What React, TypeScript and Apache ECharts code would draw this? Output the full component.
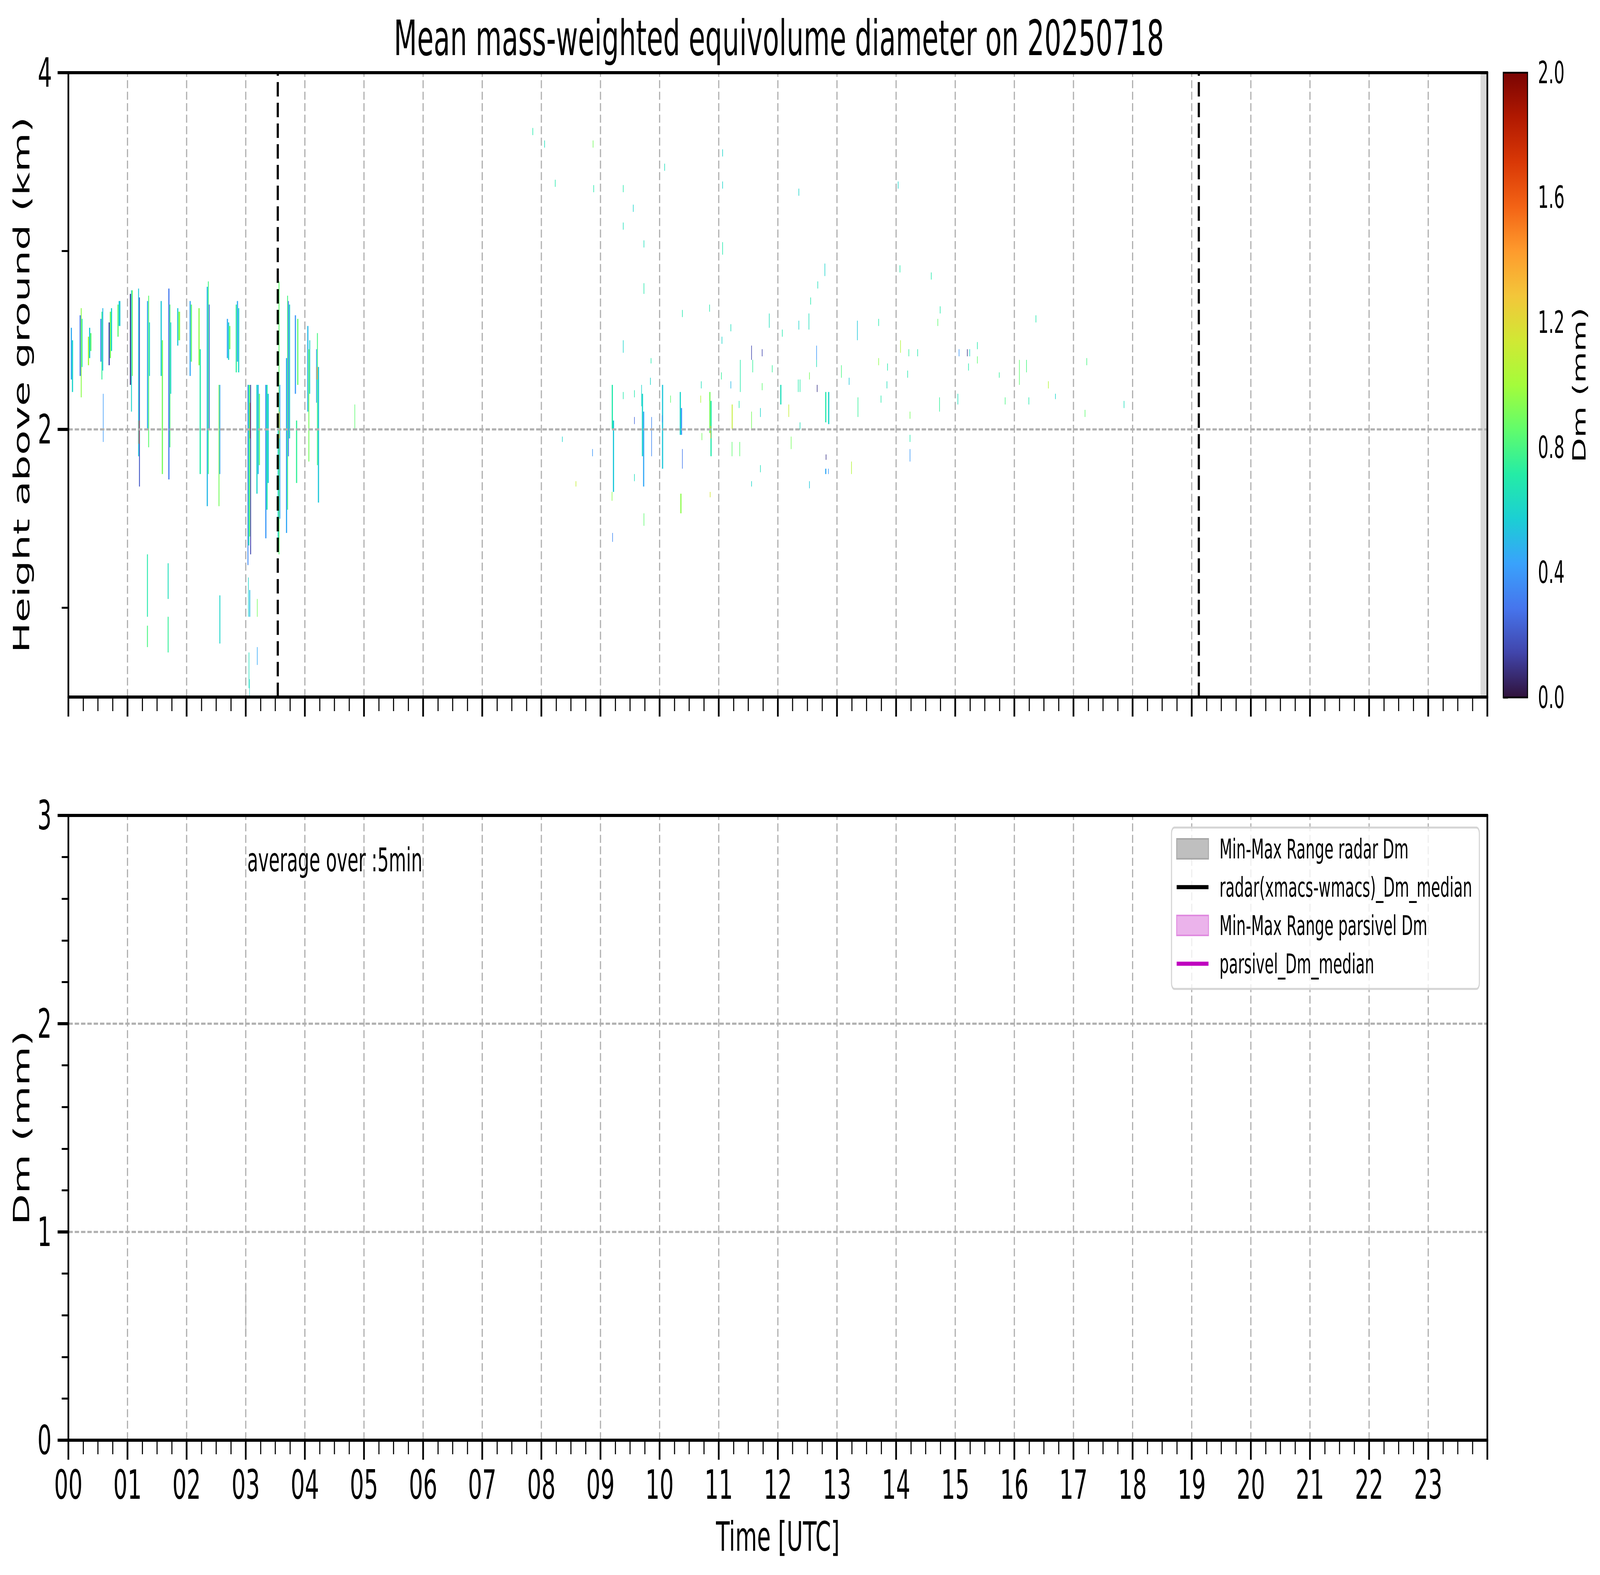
import React, { useEffect, useRef } from 'react';
import * as echarts from 'echarts';

// ---------------- data ----------------
const TITLE = 'Mean mass-weighted equivolume diameter on 20250718';
const HOUR_LABELS = ['00', '01', '02', '03', '04', '05', '06', '07', '08', '09', '10', '11',
  '12', '13', '14', '15', '16', '17', '18', '19', '20', '21', '22', '23'];
const HEIGHT_TICKS = [2, 4];
const HEIGHT_MINOR_TICKS = [1, 3];
const HEIGHT_GRID = [2];
const HEIGHT_MIN = 0.5;
const HEIGHT_MAX = 4;
const DM_MAX = 3;
const DM_GRID = [1, 2];
const CB_MIN = 0;
const CB_MAX = 2;
const EVENT_LINES = [3.535, 19.117];
const NO_DATA_START = 23.885;
const AVG_TEXT = 'average over :5min';

// matplotlib "turbo" colormap samples (0 -> 1)
const TURBO = ['#30123b', '#4145ab', '#4675ed', '#39a2fc', '#1bcfd4', '#24eca6', '#61fc6c', '#a4fc3b',
  '#d1e834', '#f3c63a', '#fe9b2d', '#f36315', '#d93806', '#b11901', '#7a0403'];

// radar Dm cells: [time start (h), time end (h), height bottom (km), height top (km), Dm (mm)]
const RADAR_EARLY = [
  [0.04, 0.06, 2.28, 2.57, 0.45], [0.06, 0.08, 2.21, 2.50, 0.6],
  [0.19, 0.21, 2.30, 2.64, 0.3], [0.21, 0.225, 2.18, 2.68, 0.95], [0.225, 0.24, 2.35, 2.62, 0.7],
  [0.33, 0.35, 2.36, 2.52, 1.0], [0.35, 0.37, 2.40, 2.57, 0.55], [0.37, 0.39, 2.44, 2.54, 0.85],
  [0.54, 0.56, 2.38, 2.62, 0.35], [0.56, 0.575, 2.28, 2.66, 0.75], [0.575, 0.59, 2.33, 2.68, 0.5], [0.585, 0.595, 1.93, 2.2, 0.4],
  [0.68, 0.70, 2.36, 2.60, 0.15], [0.70, 0.72, 2.40, 2.66, 0.9], [0.72, 0.74, 2.44, 2.68, 0.6],
  [0.83, 0.85, 2.52, 2.70, 0.85], [0.85, 0.88, 2.58, 2.72, 0.55],
  [1.04, 1.06, 2.25, 2.76, 0.1], [1.06, 1.075, 2.10, 2.78, 0.6], [1.075, 1.09, 2.30, 2.78, 0.9],
  [1.18, 1.195, 1.85, 2.79, 0.55], [1.195, 1.21, 1.68, 2.74, 0.2], [1.19, 1.2, 1.92, 2.05, 1.6],
  [1.33, 1.35, 2.0, 2.72, 0.45], [1.35, 1.365, 1.9, 2.75, 0.85], [1.365, 1.38, 2.3, 2.6, 0.6],
  [1.56, 1.58, 2.30, 2.72, 0.55], [1.58, 1.60, 1.75, 2.5, 0.9],
  [1.69, 1.71, 1.72, 2.79, 0.3], [1.71, 1.725, 1.9, 2.7, 0.8], [1.725, 1.74, 2.2, 2.6, 0.55],
  [1.84, 1.86, 2.47, 2.68, 0.55], [1.86, 1.89, 2.50, 2.66, 0.95],
  [2.05, 2.07, 2.30, 2.72, 0.45], [2.07, 2.09, 2.38, 2.70, 0.85],
  [2.20, 2.22, 2.36, 2.68, 0.95], [2.22, 2.24, 1.75, 2.45, 0.7],
  [2.34, 2.36, 1.57, 2.80, 0.5], [2.36, 2.375, 1.75, 2.83, 0.8], [2.375, 2.39, 2.0, 2.7, 0.25],
  [2.54, 2.555, 1.57, 2.25, 0.9], [2.555, 2.57, 1.75, 2.25, 0.45],
  [2.68, 2.70, 2.40, 2.62, 0.45], [2.70, 2.72, 2.39, 2.60, 0.6], [2.72, 2.74, 2.45, 2.58, 0.9],
  [2.83, 2.85, 2.32, 2.70, 0.75], [2.85, 2.87, 2.38, 2.72, 0.45], [2.87, 2.89, 2.32, 2.68, 0.6],
  [1.33, 1.345, 0.95, 1.30, 0.7], [1.33, 1.345, 0.78, 0.90, 0.8],
  [1.68, 1.695, 1.05, 1.25, 0.65], [1.68, 1.695, 0.75, 0.95, 0.75],
  [2.555, 2.57, 0.80, 1.07, 0.6],
];

const RADAR_MORNING = [
  [3.03, 3.045, 1.24, 2.25, 0.35], [3.045, 3.06, 1.35, 2.25, 0.7], [3.06, 3.075, 1.40, 2.25, 0.9],
  [3.075, 3.09, 1.30, 2.25, 0.15], [3.07, 3.075, 1.95, 2.15, 1.8],
  [3.04, 3.05, 0.95, 1.17, 0.6], [3.06, 3.075, 0.95, 1.1, 0.5], [3.05, 3.06, 0.55, 0.75, 0.65], [3.06, 3.065, 0.5, 0.6, 0.6],
  [3.18, 3.20, 1.64, 2.25, 0.6], [3.20, 3.22, 1.75, 2.25, 0.5], [3.22, 3.24, 1.80, 2.20, 0.85],
  [3.19, 3.20, 0.95, 1.05, 0.9], [3.19, 3.20, 0.68, 0.78, 0.45],
  [3.33, 3.35, 1.39, 2.25, 0.4], [3.35, 3.37, 1.55, 2.25, 0.7], [3.37, 3.39, 1.70, 2.2, 0.55],
  [3.54, 3.555, 1.35, 2.05, 0.55], [3.555, 3.57, 1.30, 2.83, 0.85], [3.57, 3.585, 1.50, 2.25, 0.45], [3.565, 3.575, 1.95, 2.1, 1.3],
  [3.68, 3.70, 1.42, 2.40, 0.45], [3.70, 3.715, 1.55, 2.75, 0.8], [3.715, 3.73, 1.85, 2.72, 0.3], [3.73, 3.75, 1.95, 2.70, 0.6],
  [3.83, 3.85, 2.20, 2.64, 0.4], [3.85, 3.87, 1.70, 2.05, 0.75], [3.87, 3.89, 2.25, 2.62, 0.85],
  [4.04, 4.06, 2.10, 2.58, 0.5], [4.06, 4.075, 1.82, 2.45, 0.9], [4.075, 4.09, 2.20, 2.50, 0.6],
  [4.19, 4.205, 2.15, 2.45, 0.45], [4.205, 4.22, 1.80, 2.54, 0.8], [4.22, 4.24, 1.59, 2.35, 0.55], [4.20, 4.215, 2.28, 2.35, 1.4],
  [4.84, 4.85, 2.0, 2.14, 0.85],
];

const RADAR_DAYTIME = [
  [7.85, 7.86, 3.65, 3.69, 0.7], [8.05, 8.06, 3.58, 3.62, 0.65], [8.23, 8.24, 3.36, 3.40, 0.7],
  [8.35, 8.36, 1.93, 1.96, 0.6], [8.58, 8.59, 1.68, 1.71, 1.1], [8.86, 8.87, 1.85, 1.89, 0.4],
  [8.87, 8.88, 3.58, 3.62, 0.9], [8.88, 8.89, 3.33, 3.37, 0.7],
  [9.19, 9.21, 2.0, 2.25, 0.7], [9.21, 9.23, 1.65, 2.05, 0.55], [9.20, 9.21, 1.37, 1.42, 0.35], [9.19, 9.20, 1.6, 1.65, 0.95],
  [9.38, 9.39, 3.33, 3.37, 0.7], [9.38, 9.39, 3.12, 3.16, 0.65], [9.38, 9.39, 2.43, 2.50, 0.6], [9.38, 9.39, 2.17, 2.21, 0.7],
  [9.55, 9.56, 3.22, 3.26, 0.6], [9.57, 9.58, 2.18, 2.22, 0.7], [9.57, 9.58, 2.03, 2.07, 0.25], [9.57, 9.58, 1.71, 1.75, 0.65],
  [9.69, 9.70, 2.13, 2.25, 0.6], [9.70, 9.72, 1.85, 2.2, 0.6], [9.72, 9.74, 1.68, 2.1, 0.45], [9.73, 9.74, 1.46, 1.53, 0.85],
  [9.73, 9.74, 3.02, 3.06, 0.65], [9.73, 9.74, 2.76, 2.82, 0.7],
  [9.85, 9.86, 2.37, 2.40, 0.7], [9.86, 9.87, 1.85, 2.07, 0.35], [9.84, 9.85, 2.25, 2.29, 0.6],
  [10.04, 10.06, 1.78, 2.25, 0.55], [10.04, 10.05, 2.04, 2.08, 0.4], [10.08, 10.09, 3.45, 3.49, 0.65], [10.18, 10.19, 2.15, 2.19, 0.85],
  [10.34, 10.36, 1.97, 2.21, 0.6], [10.36, 10.38, 1.97, 2.12, 0.4], [10.35, 10.37, 1.53, 1.64, 0.95],
  [10.38, 10.39, 1.78, 1.89, 0.3], [10.38, 10.39, 2.63, 2.67, 0.7],
  [10.70, 10.71, 2.23, 2.27, 0.65], [10.69, 10.70, 2.15, 2.19, 1.05], [10.71, 10.72, 1.94, 1.98, 0.9],
  [10.84, 10.86, 1.98, 2.21, 0.9], [10.86, 10.88, 1.85, 2.16, 0.7], [10.86, 10.87, 1.95, 2.02, 1.35],
  [10.85, 10.86, 1.62, 1.65, 1.15], [10.84, 10.85, 2.66, 2.70, 0.7],
  [11.06, 11.07, 3.53, 3.57, 0.6], [11.06, 11.07, 3.35, 3.39, 0.6], [11.06, 11.07, 2.98, 3.05, 0.7],
  [11.04, 11.05, 2.28, 2.32, 0.75], [11.05, 11.06, 2.48, 2.52, 0.6],
  [11.20, 11.21, 2.55, 2.59, 0.65], [11.20, 11.21, 2.23, 2.27, 0.5], [11.22, 11.235, 2.0, 2.14, 1.1], [11.22, 11.23, 1.85, 1.93, 0.85],
  [11.34, 11.35, 2.12, 2.16, 0.7], [11.35, 11.36, 1.85, 1.93, 0.85], [11.36, 11.37, 2.21, 2.39, 0.7],
  [11.55, 11.56, 2.39, 2.47, 0.15], [11.55, 11.56, 2.0, 2.1, 0.9], [11.55, 11.56, 1.68, 1.71, 0.6], [11.57, 11.58, 2.32, 2.39, 0.75],
  [11.70, 11.71, 2.07, 2.12, 0.6], [11.70, 11.71, 1.76, 1.80, 0.65], [11.73, 11.74, 2.41, 2.45, 0.15], [11.73, 11.74, 2.22, 2.26, 0.85],
  [11.85, 11.86, 2.57, 2.65, 0.65], [11.90, 11.91, 2.32, 2.36, 0.75],
  [12.04, 12.06, 2.14, 2.25, 0.65], [12.07, 12.08, 2.52, 2.56, 0.7], [12.18, 12.19, 2.07, 2.14, 1.1], [12.22, 12.23, 1.89, 1.96, 0.9],
  [12.34, 12.35, 2.21, 2.28, 0.7], [12.35, 12.36, 2.56, 2.61, 0.6], [12.35, 12.36, 3.31, 3.35, 0.6],
  [12.37, 12.38, 2.21, 2.28, 0.7], [12.37, 12.38, 2.0, 2.04, 0.65],
  [12.52, 12.53, 2.56, 2.65, 0.65], [12.53, 12.54, 2.28, 2.32, 0.9], [12.53, 12.54, 1.67, 1.71, 0.55], [12.55, 12.56, 2.70, 2.74, 0.7],
  [12.65, 12.66, 2.39, 2.47, 0.4], [12.65, 12.66, 2.35, 2.39, 0.65], [12.66, 12.67, 2.21, 2.25, 0.1], [12.67, 12.68, 2.79, 2.83, 0.65],
  [12.79, 12.80, 2.86, 2.93, 0.6], [12.80, 12.82, 2.04, 2.21, 0.7], [12.81, 12.82, 1.83, 1.86, 0.1], [12.80, 12.82, 1.75, 1.78, 0.45],
  [12.85, 12.87, 2.03, 2.21, 0.6], [12.85, 12.86, 1.75, 1.78, 0.4],
  [13.07, 13.08, 2.29, 2.36, 0.8], [13.20, 13.21, 2.25, 2.29, 0.55], [13.24, 13.25, 1.75, 1.82, 1.05],
  [13.34, 13.35, 2.50, 2.61, 0.55], [13.35, 13.36, 2.07, 2.18, 0.75],
  [13.70, 13.71, 2.58, 2.62, 0.7], [13.70, 13.71, 2.36, 2.40, 0.95], [13.74, 13.75, 2.15, 2.19, 0.7],
  [13.84, 13.85, 2.23, 2.27, 0.65], [13.85, 13.86, 2.33, 2.37, 0.7],
  [14.03, 14.04, 3.35, 3.39, 0.6], [14.06, 14.07, 2.88, 2.92, 0.7], [14.07, 14.08, 2.43, 2.50, 1.05],
  [14.19, 14.20, 2.29, 2.33, 0.7], [14.21, 14.22, 2.41, 2.45, 0.75], [14.23, 14.24, 1.93, 1.97, 0.7],
  [14.23, 14.24, 1.82, 1.89, 0.4], [14.23, 14.24, 2.06, 2.10, 0.9], [14.36, 14.37, 2.41, 2.45, 0.7],
  [14.59, 14.60, 2.84, 2.88, 0.7], [14.70, 14.71, 2.58, 2.62, 0.85], [14.73, 14.74, 2.10, 2.18, 0.75], [14.74, 14.75, 2.65, 2.69, 0.7],
  [15.04, 15.05, 2.14, 2.20, 0.65], [15.06, 15.07, 2.41, 2.45, 0.4], [15.20, 15.21, 2.41, 2.45, 0.1],
  [15.22, 15.23, 2.33, 2.37, 0.7], [15.24, 15.25, 2.41, 2.45, 0.6], [15.37, 15.38, 2.37, 2.41, 0.85], [15.37, 15.38, 2.45, 2.49, 0.7],
  [15.74, 15.75, 2.29, 2.32, 0.75], [15.84, 15.85, 2.14, 2.18, 0.8],
  [16.08, 16.09, 2.25, 2.39, 0.85], [16.20, 16.21, 2.32, 2.39, 0.8], [16.24, 16.25, 2.14, 2.18, 0.7], [16.36, 16.37, 2.60, 2.64, 0.7],
  [16.57, 16.58, 2.23, 2.27, 1.05], [16.69, 16.70, 2.17, 2.20, 0.6],
  [17.19, 17.20, 2.07, 2.11, 0.85], [17.22, 17.23, 2.36, 2.40, 0.8], [17.85, 17.86, 2.12, 2.16, 0.65],
];

// bottom panel (5-min averages): [time (h), min Dm, max Dm]
const RADAR_RANGE = [[3.0, 0.50, 0.75]];
const RADAR_MEDIAN: number[][] = [];
const PARSIVEL_RANGE: number[][] = [];
const PARSIVEL_MEDIAN: number[][] = [];

const NAME_RADAR_RANGE = 'Min-Max Range radar Dm';
const NAME_RADAR_MEDIAN = 'radar(xmacs-wmacs)_Dm_median';
const NAME_PARS_RANGE = 'Min-Max Range parsivel Dm';
const NAME_PARS_MEDIAN = 'parsivel_Dm_median';

// ---------------- styling ----------------
const PAGE_W = 7442;
const PAGE_H = 4031;
const FONT = 'DejaVu Sans';
const BLACK = '#000000';
const GRID_GRAY = '#b0b0b0';
const SPINE = 8;
const GRID_LINE = { color: GRID_GRAY, width: 5.5, type: [20.5, 8.9] };
const majorTick = (len: number) => ({ show: true, length: len, lineStyle: { color: BLACK, width: 8 } });
const minorTickStyle = { color: BLACK, width: 5 };
const spineLine = { show: true, onZero: false, lineStyle: { color: BLACK, width: SPINE } };

function spineX(gridIndex: number) {
  return {
    gridIndex, type: 'value', min: 0, max: 24, position: 'top', z: 6,
    axisLine: spineLine, axisTick: { show: false }, axisLabel: { show: false }, splitLine: { show: false },
  };
}
function spineY(gridIndex: number, min: number, max: number) {
  return {
    gridIndex, type: 'value', min, max, position: 'right', z: 6,
    axisLine: spineLine, axisTick: { show: false }, axisLabel: { show: false }, splitLine: { show: false },
  };
}

function buildOption() {
  const radarCells = [...RADAR_EARLY, ...RADAR_MORNING, ...RADAR_DAYTIME];
  const hourGrid = HOUR_LABELS.map((_, i) => i).filter((i) => i > 0);
  const lineIcon = 'path://M0,0H100V7H0Z';
  const vGrid = hourGrid.map((h) => ({ xAxis: h, lineStyle: GRID_LINE }));

  return {
    animation: false,
    backgroundColor: '#ffffff',
    textStyle: { fontFamily: FONT },
    title: {
      text: TITLE,
      left: 3618,
      top: 30,
      textAlign: 'center',
      textStyle: { fontFamily: FONT, fontSize: 125, fontWeight: 'normal', color: BLACK },
    },
    visualMap: {
      show: false,
      type: 'continuous',
      seriesIndex: 0,
      dimension: 4,
      min: CB_MIN,
      max: CB_MAX,
      inRange: { color: TURBO },
    },
    grid: [
      { left: 318, top: 186, width: 6600, height: 1598, show: false },
      { left: 318, top: 2087, width: 6600, height: 1599, show: false },
      { left: 6992, top: 186, width: 113, height: 1599, show: false },
    ],
    xAxis: [
      {
        gridIndex: 0, type: 'value', min: 0, max: 24, interval: 1, z: 5,
        axisLine: spineLine,
        axisTick: majorTick(50),
        minorTick: { show: true, splitNumber: 4, length: 36, lineStyle: minorTickStyle },
        axisLabel: { show: false },
        splitLine: { show: false },
      },
      {
        gridIndex: 1, type: 'value', min: 0, max: 24, interval: 1, z: 5,
        axisLine: spineLine,
        axisTick: majorTick(50),
        minorTick: { show: true, splitNumber: 4, length: 36, lineStyle: minorTickStyle },
        axisLabel: {
          show: true, fontSize: 104, fontFamily: FONT, color: BLACK, margin: 62,
          formatter: (v: number) => (HOUR_LABELS[Math.round(v)] !== undefined ? HOUR_LABELS[Math.round(v)] : ''),
        },
        splitLine: { show: false },
        name: 'Time [UTC]', nameLocation: 'middle', nameGap: 195,
        nameTextStyle: { fontSize: 104, fontFamily: FONT, color: BLACK },
      },
      { gridIndex: 2, type: 'value', min: 0, max: 1, show: false },
      spineX(0),
      spineX(1),
    ],
    yAxis: [
      {
        gridIndex: 0, type: 'value', min: HEIGHT_MIN, max: HEIGHT_MAX, z: 5,
        axisLine: spineLine,
        axisTick: { show: true, customValues: HEIGHT_TICKS, length: 50, lineStyle: { color: BLACK, width: 8 } },
        axisLabel: { show: true, customValues: HEIGHT_TICKS, fontSize: 104, fontFamily: FONT, color: BLACK, margin: 76 },
        splitLine: { show: false },
        name: 'Height above ground (km)', nameLocation: 'middle', nameGap: 165,
        nameTextStyle: { fontSize: 104, fontFamily: FONT, color: BLACK },
      },
      {
        gridIndex: 0, type: 'value', min: HEIGHT_MIN, max: HEIGHT_MAX, position: 'left', offset: 0,
        axisLine: { show: false },
        axisTick: { show: true, customValues: HEIGHT_MINOR_TICKS, length: 31, lineStyle: minorTickStyle },
        axisLabel: { show: false },
        splitLine: { show: false },
      },
      {
        gridIndex: 1, type: 'value', min: 0, max: DM_MAX, interval: 1, z: 5,
        axisLine: spineLine,
        axisTick: majorTick(50),
        minorTick: { show: true, splitNumber: 5, length: 31, lineStyle: minorTickStyle },
        axisLabel: { show: true, fontSize: 104, fontFamily: FONT, color: BLACK, margin: 78 },
        splitLine: { show: false },
        name: 'Dm (mm)', nameLocation: 'middle', nameGap: 165,
        nameTextStyle: { fontSize: 104, fontFamily: FONT, color: BLACK },
      },
      {
        gridIndex: 2, type: 'value', min: CB_MIN, max: CB_MAX, interval: 0.4, position: 'right',
        axisLine: { show: false },
        axisTick: { show: true, length: 22, lineStyle: { color: BLACK, width: 4.6 } },
        axisLabel: { show: true, fontSize: 78, fontFamily: FONT, color: BLACK, margin: 48, formatter: (v: number) => v.toFixed(1) },
        splitLine: { show: false },
        name: 'Dm (mm)', nameLocation: 'middle', nameGap: 200,
        nameTextStyle: { fontSize: 83, fontFamily: FONT, color: BLACK },
      },
      spineY(0, HEIGHT_MIN, HEIGHT_MAX),
      spineY(1, 0, DM_MAX),
    ],
    legend: {
      orient: 'vertical',
      left: 5449,
      top: 2118,
      z: 8,
      selectedMode: false,
      itemWidth: 148,
      itemHeight: 51,
      itemGap: 29,
      backgroundColor: 'rgba(255,255,255,0.8)',
      borderColor: '#d4d4d4',
      borderWidth: 5,
      borderRadius: 14,
      padding: [20, 33, 30, 22],
      textStyle: { fontFamily: FONT, fontSize: 69, color: BLACK, padding: [0, 0, 0, 46] },
      data: [
        { name: NAME_RADAR_RANGE, icon: 'rect', itemStyle: { color: '#bfbfbf', borderColor: '#a8a8a8', borderWidth: 4 } },
        { name: NAME_RADAR_MEDIAN, icon: lineIcon, itemStyle: { color: BLACK, borderWidth: 0 } },
        { name: NAME_PARS_RANGE, icon: 'rect', itemStyle: { color: '#ebb3eb', borderColor: '#e08ae0', borderWidth: 4 } },
        { name: NAME_PARS_MEDIAN, icon: lineIcon, itemStyle: { color: '#bf00bf', borderWidth: 0 } },
      ],
    },
    graphic: [
      {
        type: 'text', left: 1150, top: 2160, z: 10,
        style: { text: AVG_TEXT, fontSize: 83, fontFamily: FONT, fill: BLACK },
      },
    ],
    series: [
      {
        type: 'custom',
        name: 'radar Dm',
        xAxisIndex: 0,
        yAxisIndex: 0,
        data: radarCells,
        encode: { x: [0, 1], y: [2, 3] },
        renderItem: (params: any, api: any) => {
          const p0 = api.coord([api.value(0), api.value(3)]);
          const p1 = api.coord([api.value(1), api.value(2)]);
          return {
            type: 'rect',
            shape: { x: p0[0], y: p0[1], width: Math.max(p1[0] - p0[0], 2), height: p1[1] - p0[1] },
            style: { fill: api.visual('color') },
          };
        },
        markArea: {
          silent: true,
          itemStyle: { color: '#d9d9d9' },
          data: [[{ xAxis: NO_DATA_START }, { xAxis: 24 }]],
        },
        markLine: {
          silent: true,
          symbol: ['none', 'none'],
          label: { show: false },
          data: [
            ...vGrid,
            ...HEIGHT_GRID.map((h) => ({ yAxis: h, lineStyle: GRID_LINE })),
            ...EVENT_LINES.map((t) => ({ xAxis: t, lineStyle: { color: BLACK, width: 10, type: [37, 16] } })),
          ],
        },
      },
      {
        type: 'custom',
        name: 'colorbar',
        xAxisIndex: 2,
        yAxisIndex: 3,
        data: [[0, CB_MIN, 1, CB_MAX]],
        renderItem: (params: any, api: any) => {
          const p0 = api.coord([api.value(0), api.value(3)]);
          const p1 = api.coord([api.value(2), api.value(1)]);
          const stops = TURBO.map((c, i) => ({ offset: i / (TURBO.length - 1), color: c }));
          return {
            type: 'rect',
            shape: { x: p0[0], y: p0[1], width: p1[0] - p0[0], height: p1[1] - p0[1] },
            style: { fill: new echarts.graphic.LinearGradient(0, 1, 0, 0, stops), stroke: BLACK, lineWidth: 4.6 },
          };
        },
      },
      {
        type: 'custom',
        name: NAME_RADAR_RANGE,
        xAxisIndex: 1,
        yAxisIndex: 2,
        itemStyle: { color: '#bfbfbf' },
        data: RADAR_RANGE,
        renderItem: (params: any, api: any) => {
          const a = api.coord([api.value(0), api.value(1)]);
          const b = api.coord([api.value(0), api.value(2)]);
          return {
            type: 'line',
            shape: { x1: a[0], y1: a[1], x2: b[0], y2: b[1] },
            style: { stroke: '#c4c4c4', lineWidth: 5 },
          };
        },
        markLine: {
          silent: true,
          symbol: ['none', 'none'],
          label: { show: false },
          data: [...vGrid, ...DM_GRID.map((d) => ({ yAxis: d, lineStyle: GRID_LINE }))],
        },
      },
      {
        type: 'line',
        name: NAME_RADAR_MEDIAN,
        xAxisIndex: 1,
        yAxisIndex: 2,
        showSymbol: false,
        color: BLACK,
        lineStyle: { color: BLACK, width: 10 },
        data: RADAR_MEDIAN,
      },
      {
        type: 'custom',
        name: NAME_PARS_RANGE,
        xAxisIndex: 1,
        yAxisIndex: 2,
        itemStyle: { color: '#ebb3eb' },
        data: PARSIVEL_RANGE,
        renderItem: (params: any, api: any) => {
          const a = api.coord([api.value(0), api.value(1)]);
          const b = api.coord([api.value(0), api.value(2)]);
          return {
            type: 'line',
            shape: { x1: a[0], y1: a[1], x2: b[0], y2: b[1] },
            style: { stroke: '#ebb3eb', lineWidth: 5 },
          };
        },
      },
      {
        type: 'line',
        name: NAME_PARS_MEDIAN,
        xAxisIndex: 1,
        yAxisIndex: 2,
        showSymbol: false,
        color: '#bf00bf',
        lineStyle: { color: '#bf00bf', width: 10 },
        data: PARSIVEL_MEDIAN,
      },
    ],
  };
}

export default function App() {
  const ref = useRef<HTMLDivElement | null>(null);
  useEffect(() => {
    if (!ref.current) return;
    const chart = echarts.init(ref.current, null, { renderer: 'svg' });
    chart.setOption(buildOption() as any);
    return () => chart.dispose();
  }, []);
  // The browser viewport may be narrower than the intended page; fit the full layout into it.
  const vw = typeof window !== 'undefined' ? window.innerWidth : PAGE_W;
  const vh = typeof window !== 'undefined' ? window.innerHeight : PAGE_H;
  const sx = Math.min(1, vw / PAGE_W);
  const sy = Math.min(1, vh / PAGE_H);
  return (
    <div
      style={{
        position: 'fixed', left: 0, top: 0, width: PAGE_W + 'px', height: PAGE_H + 'px',
        transformOrigin: '0 0', transform: `scale(${sx}, ${sy})`, background: '#fff',
      }}
    >
      <div ref={ref} style={{ width: PAGE_W + 'px', height: PAGE_H + 'px' }} />
    </div>
  );
}
